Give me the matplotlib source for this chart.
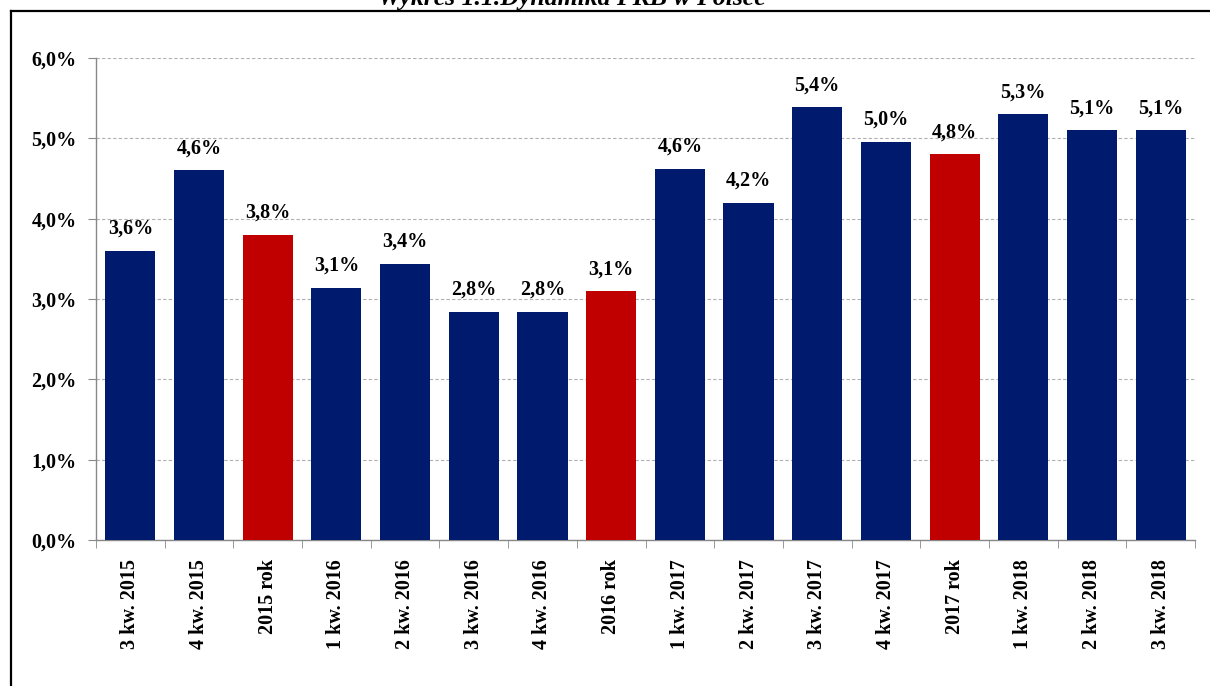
import matplotlib.pyplot as plt
import numpy as np
from matplotlib.lines import Line2D
from matplotlib.ticker import FuncFormatter

# PKB growth, y/y (%)
labels = ["3 kw. 2015", "4 kw. 2015", "2015 rok", "1 kw. 2016", "2 kw. 2016",
          "3 kw. 2016", "4 kw. 2016", "2016 rok", "1 kw. 2017", "2 kw. 2017",
          "3 kw. 2017", "4 kw. 2017", "2017 rok", "1 kw. 2018", "2 kw. 2018",
          "3 kw. 2018"]
values = [3.6, 4.6, 3.8, 3.14, 3.44, 2.84, 2.84, 3.1, 4.62, 4.2,
          5.39, 4.96, 4.8, 5.3, 5.1, 5.1]
annual = [False, False, True, False, False, False, False, True, False, False,
          False, False, True, False, False, False]

navy = "#001a6e"
red = "#c00000"
colors = [red if a else navy for a in annual]

serif = ["Liberation Serif", "DejaVu Serif"]

fig = plt.figure(figsize=(12.1, 6.86), dpi=100)
ax = fig.add_axes([96 / 1210, 1 - 540 / 686, (1195 - 96) / 1210, (540 - 58) / 686])

x = np.arange(len(values))
ax.bar(x, values, width=0.73, color=colors, zorder=3)

for xi, v in zip(x, values):
    ax.annotate(("%.1f%%" % v).replace(".", ","), (xi, v), xytext=(0, 8.5),
                textcoords="offset points", ha="center", va="bottom",
                fontsize=14.5, fontweight="bold", family=serif)

ax.set_xlim(-0.5, len(values) - 0.5)
ax.set_ylim(0, 6)
ax.set_yticks(np.arange(0, 7, 1))
ax.yaxis.set_major_formatter(FuncFormatter(lambda v, p: ("%.1f%%" % v).replace(".", ",")))
ax.grid(axis="y", color="#b0b0b0", linestyle=(0, (3, 2)), linewidth=0.8, zorder=0)

ax.set_xticks(x)
ax.set_xticklabels(labels, rotation=90, family=serif, fontsize=14.5, fontweight="bold")
ax.set_xticks(np.arange(-0.5, len(values)), minor=True)
ax.tick_params(axis="x", which="major", length=0, pad=14)
ax.tick_params(axis="x", which="minor", length=6, color="#888888")
ax.tick_params(axis="y", length=6, color="#888888", pad=8)
for t in ax.get_yticklabels():
    t.set_family(serif)
    t.set_fontsize(14.5)
    t.set_fontweight("bold")

for s in ["top", "right"]:
    ax.spines[s].set_visible(False)
for s in ["left", "bottom"]:
    ax.spines[s].set_color("#888888")
    ax.spines[s].set_linewidth(1.0)

# outer frame and heading (top edge of the heading runs off the page)
fig.add_artist(Line2D([11 / 1210, 11 / 1210], [0, 1 - 11 / 686], color="black", lw=1.6))
fig.add_artist(Line2D([11 / 1210, 1], [1 - 11 / 686, 1 - 11 / 686], color="black", lw=1.6))
fig.text(572 / 1210, 1 - 5 / 686, "Wykres 1.1.Dynamika PKB w Polsce", ha="center",
         va="baseline", family=serif, fontsize=18.5, fontweight="bold", style="italic")

fig.savefig("out.png", dpi=100)
